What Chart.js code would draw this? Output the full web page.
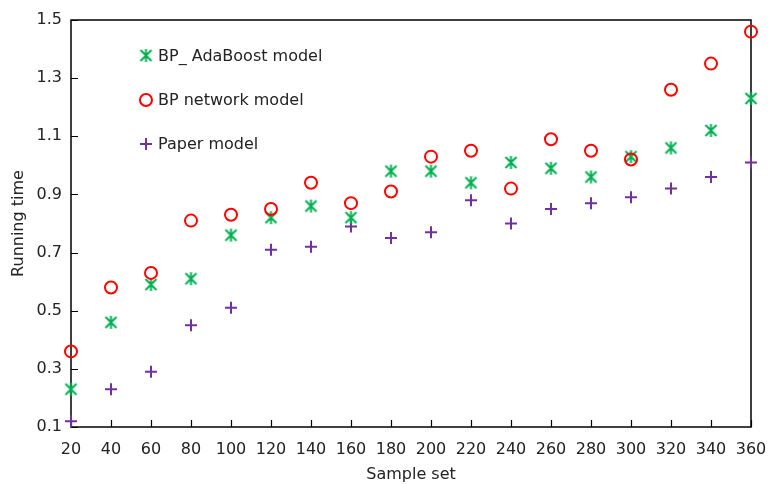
<!DOCTYPE html>
<html>
<head>
<meta charset="utf-8">
<script src="https://cdn.jsdelivr.net/npm/chart.js@4/dist/chart.umd.min.js"></script>
<style>
html,body{margin:0;padding:0;background:#fff;}
#wrap{width:768px;height:484px;position:relative;}
</style>
</head>
<body>
<div id="wrap"><canvas id="c" width="768" height="484"></canvas></div>
<script>
const sampleSizes = [20,40,60,80,100,120,140,160,180,200,220,240,260,280,300,320,340,360];
const adaBoostTimes = [0.23,0.46,0.59,0.61,0.76,0.82,0.86,0.82,0.98,0.98,0.94,1.01,0.99,0.96,1.03,1.06,1.12,1.23];
const bpNetworkTimes = [0.36,0.58,0.63,0.81,0.83,0.85,0.94,0.87,0.91,1.03,1.05,0.92,1.09,1.05,1.02,1.26,1.35,1.46];
const paperModelTimes = [0.12,0.23,0.29,0.45,0.51,0.71,0.72,0.79,0.75,0.77,0.88,0.80,0.85,0.87,0.89,0.92,0.96,1.01];
const yTickValues = [0.1,0.3,0.5,0.7,0.9,1.1,1.3,1.5];
const seriesLabels = ['BP_ AdaBoost model','BP network model','Paper model'];

const GREEN = '#00b050', RED = '#ff0000', PURPLE = '#7030a0';
const FONT = "'DejaVu Sans', Verdana, sans-serif";
const FS = 16;

function makeAsterisk(){
  const c = document.createElement('canvas');
  c.width = 15; c.height = 15;
  const g = c.getContext('2d');
  g.strokeStyle = GREEN; g.lineWidth = 2; g.lineCap = 'butt';
  g.beginPath();
  g.moveTo(2,2); g.lineTo(13,13);
  g.moveTo(13,2); g.lineTo(2,13);
  g.moveTo(7.5,1); g.lineTo(7.5,14);
  g.stroke();
  return c;
}
const asterisk = makeAsterisk();

function pts(arr){ return sampleSizes.map((x,i)=>({x:x,y:arr[i]})); }

const framePlugin = {
  id:'frame',
  beforeDatasetsDraw(chart){
    const {ctx, chartArea:a, scales} = chart;
    ctx.save();
    ctx.strokeStyle = '#000'; ctx.lineWidth = 1.5;
    ctx.strokeRect(a.left, a.top, a.right - a.left, a.bottom - a.top);
    ctx.lineWidth = 1.2;
    ctx.beginPath();
    sampleSizes.forEach(v=>{
      const x = Math.round(scales.x.getPixelForValue(v))+0.5;
      ctx.moveTo(x, a.bottom); ctx.lineTo(x, a.bottom-7);
    });
    yTickValues.forEach(v=>{
      const y = Math.round(scales.y.getPixelForValue(v))+0.5;
      ctx.moveTo(a.left, y); ctx.lineTo(a.left+7, y);
    });
    ctx.stroke();
    ctx.restore();
  },
  afterDatasetsDraw(chart){
    const {ctx} = chart;
    ctx.save();
    const mx = 146, tx = 158, rows = [55.5, 100, 144];
    ctx.drawImage(asterisk, mx-7.5, rows[0]-7.5);
    ctx.strokeStyle = RED; ctx.lineWidth = 2;
    ctx.beginPath(); ctx.arc(mx, rows[1], 6, 0, Math.PI*2); ctx.stroke();
    ctx.strokeStyle = PURPLE; ctx.lineWidth = 2;
    ctx.beginPath();
    ctx.moveTo(mx-6, rows[2]); ctx.lineTo(mx+6, rows[2]);
    ctx.moveTo(mx, rows[2]-6); ctx.lineTo(mx, rows[2]+6);
    ctx.stroke();
    ctx.fillStyle = '#222'; ctx.font = FS + 'px ' + FONT;
    ctx.textBaseline = 'middle'; ctx.textAlign = 'left';
    seriesLabels.forEach((t,i)=>ctx.fillText(t, tx, rows[i]+1));
    ctx.restore();
  }
};

new Chart(document.getElementById('c'), {
  type:'scatter',
  data:{
    datasets:[
      {label:seriesLabels[0], data:pts(adaBoostTimes), pointStyle:asterisk, pointRadius:7, order:1, clip:false},
      {label:seriesLabels[1], data:pts(bpNetworkTimes), pointStyle:'circle', pointRadius:6, borderColor:RED, backgroundColor:'rgba(0,0,0,0)', borderWidth:2, order:0, clip:false},
      {label:seriesLabels[2], data:pts(paperModelTimes), pointStyle:'cross', pointRadius:6, borderColor:PURPLE, backgroundColor:PURPLE, borderWidth:2, order:2, clip:false}
    ]
  },
  options:{
    responsive:false, animation:false,
    layout:{padding:{top:20, right:17, left:0, bottom:0}},
    plugins:{legend:{display:false}, tooltip:{enabled:false}},
    scales:{
      x:{
        type:'linear', min:20, max:360,
        afterBuildTicks(s){ s.ticks = sampleSizes.map(v=>({value:v})); },
        afterFit(s){ s.height = 57; s.paddingLeft = 0; s.paddingRight = 0; },
        grid:{display:false, drawTicks:false},
        border:{display:false},
        ticks:{color:'#222', font:{family:FONT, size:FS}, padding:13, maxRotation:0, autoSkip:false},
        title:{display:true, text:'Sample set', color:'#222', font:{family:FONT, size:FS}, padding:{top:0,bottom:0}}
      },
      y:{
        type:'linear', min:0.1, max:1.5,
        afterBuildTicks(s){ s.ticks = yTickValues.map(v=>({value:v})); },
        afterFit(s){ s.width = 71; s.paddingTop = 0; s.paddingBottom = 0; },
        grid:{display:false, drawTicks:false},
        border:{display:false},
        ticks:{color:'#222', font:{family:FONT, size:FS}, padding:9, callback:v=>v.toFixed(1)},
        title:{display:true, text:'Running time', color:'#222', font:{family:FONT, size:FS}, padding:{top:9,bottom:4}}
      }
    }
  },
  plugins:[framePlugin]
});
</script>
</body>
</html>
